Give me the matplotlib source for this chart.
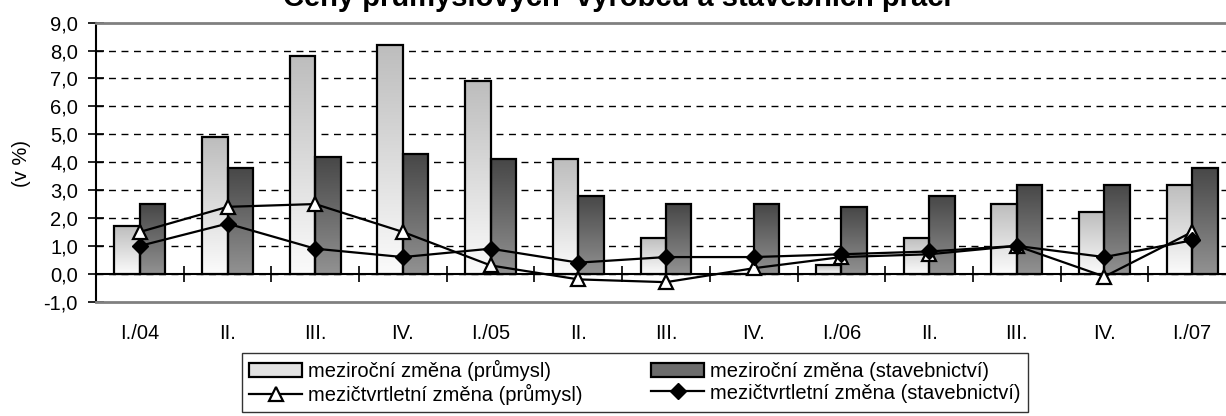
import numpy as np
import matplotlib
matplotlib.use("Agg")
import matplotlib.pyplot as plt
from matplotlib.patches import Rectangle
from matplotlib.colors import LinearSegmentedColormap
from matplotlib.ticker import FuncFormatter, FixedLocator

# ---- data (v %) ----
quarters = ["I./04", "II.", "III.", "IV.", "I./05", "II.", "III.", "IV.",
            "I./06", "II.", "III.", "IV.", "I./07"]
yoy_industry = [1.7, 4.9, 7.8, 8.2, 6.9, 4.1, 1.3, 0.0, 0.3, 1.3, 2.5, 2.2, 3.2]
yoy_construction = [2.5, 3.8, 4.2, 4.3, 4.1, 2.8, 2.5, 2.5, 2.4, 2.8, 3.2, 3.2, 3.8]
qoq_industry = [1.5, 2.4, 2.5, 1.5, 0.3, -0.2, -0.3, 0.2, 0.6, 0.7, 1.0, -0.1, 1.5]
qoq_construction = [1.0, 1.8, 0.9, 0.6, 0.9, 0.4, 0.6, 0.6, 0.7, 0.8, 1.0, 0.6, 1.2]

labels = [
    "meziroční změna (průmysl)",
    "meziroční změna (stavebnictví)",
    "mezičtvrtletní změna (průmysl)",
    "mezičtvrtletní změna (stavebnictví)",
]
title = "Ceny průmyslových  výrobců a stavebních prací"

plt.rcParams["font.family"] = ["Liberation Sans", "DejaVu Sans"]
FS = 14.5

W, H = 1226, 416
fig = plt.figure(figsize=(W / 100, H / 100), dpi=100)
ax = fig.add_axes([96 / W, 1 - 301.7 / H, 1140 / W, (301.7 - 22.7) / H])

YMIN, YMAX = -1, 9
x = np.arange(len(quarters))
bw = 0.29

light_cmap = LinearSegmentedColormap.from_list("l", ["#fbfbfb", "#bdbdbd"])
dark_cmap = LinearSegmentedColormap.from_list("d", ["#929292", "#474747"])
grad = np.linspace(0, 1, 256).reshape(-1, 1)


def gradient_bars(bars, cmap):
    for b in bars:
        x0, y0 = b.get_x(), b.get_y()
        w, h = b.get_width(), b.get_height()
        if h == 0:
            continue
        im = ax.imshow(grad, cmap=cmap, aspect="auto", origin="lower",
                       extent=[x0, x0 + w, y0, y0 + h], zorder=2,
                       interpolation="bilinear")
        im.set_clip_path(b)


b1 = ax.bar(x - bw / 2, yoy_industry, bw, facecolor="none", edgecolor="black",
            linewidth=1.6, zorder=3)
b2 = ax.bar(x + bw / 2, yoy_construction, bw, facecolor="none", edgecolor="black",
            linewidth=1.6, zorder=3)
gradient_bars(b1, light_cmap)
gradient_bars(b2, dark_cmap)

l1, = ax.plot(x, qoq_industry, color="black", lw=1.6, marker="^", ms=10,
              mfc="white", mec="black", mew=1.6, zorder=5)
l2, = ax.plot(x, qoq_construction, color="black", lw=1.6, marker="D", ms=8,
              mfc="black", mec="black", zorder=5)

ax.set_xlim(-0.5, len(quarters) - 0.5)
ax.set_ylim(YMIN, YMAX)

# y axis
ax.yaxis.set_major_locator(FixedLocator(np.arange(YMIN, YMAX + 1)))
ax.yaxis.set_major_formatter(FuncFormatter(lambda v, p: f"{v:.1f}".replace(".", ",")))
ax.tick_params(axis="y", direction="inout", length=12, width=1.2, pad=7, labelsize=FS)
ax.yaxis.grid(True, linestyle=(0, (5, 4)), color="black", linewidth=1.0, zorder=0)
ax.set_axisbelow(True)
gl = ax.get_ygridlines()
gl[0].set_visible(False)
gl[-1].set_visible(False)
fig.text(22 / W, 1 - 164 / H, "(v %)", rotation=90, ha="center", va="center",
         fontsize=FS)

# x axis: labels below the frame, tick marks on the zero line
ax.set_xticks(x)
ax.set_xticklabels(quarters)
ax.tick_params(axis="x", length=0, pad=16, labelsize=FS)
zero = ax.secondary_xaxis((0 - YMIN) / (YMAX - YMIN))
zero.set_xticks(x[:-1] + 0.5)
zero.tick_params(direction="inout", length=12, width=1.2, labelbottom=False)
zero.spines["bottom"].set_color("black")
zero.spines["bottom"].set_linewidth(1.5)

for s in ("top", "bottom"):
    ax.spines[s].set_color("#808080")
    ax.spines[s].set_linewidth(2)
ax.spines["left"].set_color("black")
ax.spines["left"].set_linewidth(1.5)
ax.spines["right"].set_visible(False)

fig.text(617 / W, 1 - 6 / H, title, ha="center", va="baseline",
         fontsize=21, fontweight="bold")

# legend
h1 = Rectangle((0, 0), 1, 1, facecolor="#e2e2e2", edgecolor="black", lw=1.6)
h2 = Rectangle((0, 0), 1, 1, facecolor="#6c6c6c", edgecolor="black", lw=1.6)
leg = fig.legend([h1, l1, h2, l2], [labels[0], labels[2], labels[1], labels[3]],
                 ncol=2, loc="upper left", bbox_to_anchor=(242 / W, 1 - 353 / H),
                 frameon=True, fancybox=False, edgecolor="black", fontsize=FS,
                 handlelength=2.64, handletextpad=0.3, columnspacing=3.4,
                 labelspacing=0.12, borderpad=0.35, borderaxespad=0)
leg.get_frame().set_linewidth(1.0)

fig.savefig("out.png", dpi=100)
